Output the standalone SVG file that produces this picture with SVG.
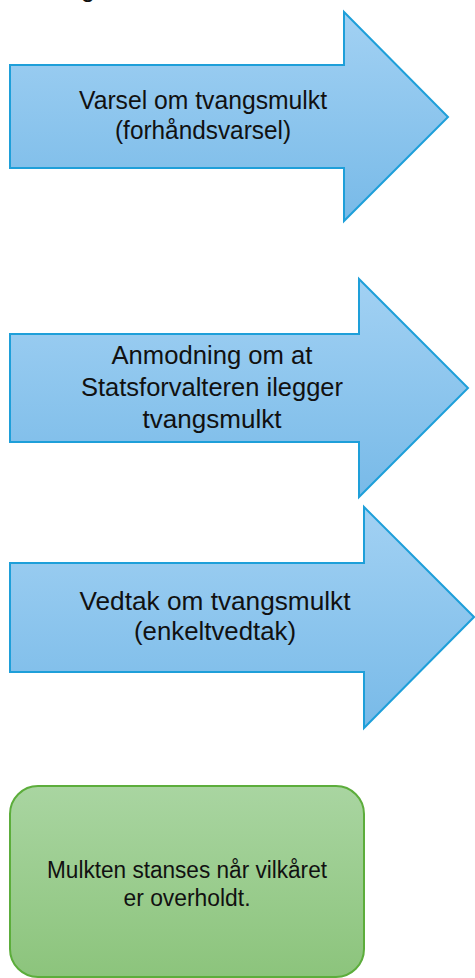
<svg xmlns="http://www.w3.org/2000/svg" width="475" height="978" viewBox="0 0 475 978">
<defs>
<linearGradient id="gb" x1="0" y1="0" x2="0" y2="1">
<stop offset="0" stop-color="#A2D1F3"/>
<stop offset="1" stop-color="#78BAE8"/>
</linearGradient>
<linearGradient id="gg" x1="0" y1="0" x2="0" y2="1">
<stop offset="0" stop-color="#A9D5A1"/>
<stop offset="1" stop-color="#8CC47C"/>
</linearGradient>
<style>
.arrow{fill:url(#gb);stroke:#1E9FD9;stroke-width:2;stroke-linejoin:miter}
.box{fill:url(#gg);stroke:#5CAD3B;stroke-width:2}
text{font-family:"Liberation Sans",Arial,sans-serif;fill:#111;text-anchor:middle}
.t{font-size:25px}
.s{font-size:23px}
</style>
</defs>
<text x="88" y="-3" class="t">g</text>
<g id="node1">
<polygon class="arrow" points="10,65 344,65 344,12 448,117 344,221 344,168 10,168"/>
<text class="t" x="203" y="109" textLength="248" lengthAdjust="spacingAndGlyphs">Varsel om tvangsmulkt</text>
<text class="t" x="203" y="139" textLength="176" lengthAdjust="spacingAndGlyphs">(forhåndsvarsel)</text>
</g>
<g id="node2">
<polygon class="arrow" points="10,334 359,334 359,279 468,388 359,497 359,442 10,442"/>
<text class="t" x="212" y="364" textLength="201" lengthAdjust="spacingAndGlyphs">Anmodning om at</text>
<text class="t" x="212" y="396" textLength="262" lengthAdjust="spacingAndGlyphs">Statsforvalteren ilegger</text>
<text class="t" x="212" y="428" textLength="139" lengthAdjust="spacingAndGlyphs">tvangsmulkt</text>
</g>
<g id="node3">
<polygon class="arrow" points="10,563 364,563 364,507 474,617 364,728 364,672 10,672"/>
<text class="t" x="215" y="610" textLength="271" lengthAdjust="spacingAndGlyphs">Vedtak om tvangsmulkt</text>
<text class="t" x="215" y="640" textLength="162" lengthAdjust="spacingAndGlyphs">(enkeltvedtak)</text>
</g>
<g id="node4">
<rect class="box" x="10" y="786" width="354" height="191" rx="28" ry="28"/>
<text class="s" x="187" y="878" textLength="280" lengthAdjust="spacingAndGlyphs">Mulkten stanses når vilkåret</text>
<text class="s" x="187" y="906" textLength="127" lengthAdjust="spacingAndGlyphs">er overholdt.</text>
</g>
<g id="connectors"></g>
</svg>
